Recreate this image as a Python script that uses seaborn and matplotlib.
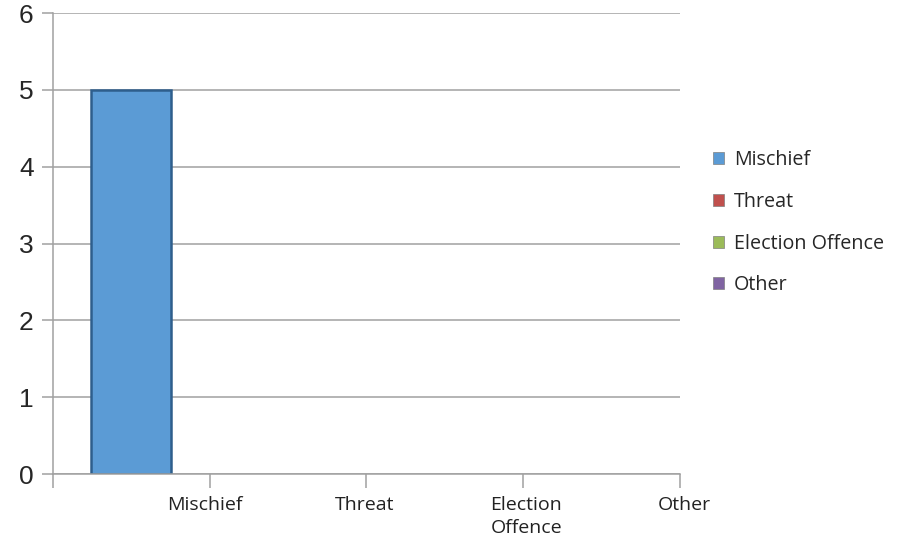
import matplotlib
matplotlib.use("Agg")
import matplotlib.pyplot as plt
import seaborn as sns
import pandas as pd
from matplotlib.patches import Patch

categories = ["Mischief", "Threat", "Election Offence", "Other"]
values = [5, 0, 0, 0]
tick_labels = ["Mischief", "Threat", "Election\nOffence", "Other"]
colors = ["#5B9BD5", "#C0504D", "#9BBB59", "#8064A2"]
yticks = [0, 1, 2, 3, 4, 5, 6]

sns.set_theme(style="white")
plt.rcParams['font.family'] = ['Open Sans', 'DejaVu Sans']

df = pd.DataFrame({"cat": categories, "val": values})

fig = plt.figure(figsize=(9.04, 5.41), dpi=100)
ax = fig.add_axes([0.0586, 0.1238, 0.6936, 0.852])

sns.barplot(data=df, x="cat", y="val", hue="cat", order=categories,
            hue_order=categories, palette=colors, width=0.51, saturation=1,
            edgecolor="#2E5E8C", linewidth=1.8, legend=False, ax=ax)
for p in ax.patches:
    if p.get_height() == 0:
        p.set_linewidth(0)

ax.set_xlim(-0.5, 3.5)
ax.set_ylim(0, 6)
ax.set_yticks(yticks)
ax.set_yticklabels([str(v) for v in yticks], fontsize=19, family="Liberation Sans")
ax.yaxis.grid(True, color="#A0A0A0", linewidth=1.1)
ax.set_axisbelow(True)

# category boundary tick marks
ax.set_xticks([-0.5, 0.5, 1.5, 2.5, 3.5])
ax.set_xticklabels([""] * 5)
ax.tick_params(axis="x", direction="out", length=10, width=1.1, color="#A0A0A0", bottom=True)
ax.tick_params(axis="y", direction="out", length=8, width=1.1, color="#A0A0A0", left=True, pad=6)

label_pos = [0.47, 1.49, 2.52, 3.53]
for x, lab in zip(label_pos, tick_labels):
    ax.annotate(lab, xy=(x, 0), xycoords=("data", "axes fraction"),
                xytext=(0, -15.5), textcoords="offset points",
                ha="center", va="top", fontsize=14, color="#222222",
                linespacing=1.4)

ax.set_xlabel("")
ax.set_ylabel("")
for s in ["top", "right"]:
    ax.spines[s].set_visible(False)
for s in ["left", "bottom"]:
    ax.spines[s].set_color("#A0A0A0")
    ax.spines[s].set_linewidth(1.1)

handles = [Patch(facecolor=c, edgecolor="#808080", linewidth=0.5) for c in colors]
fig.legend(handles, categories, loc="upper left", bbox_to_anchor=(0.780, 0.737),
           frameon=False, fontsize=14.2, handlelength=0.55, handleheight=0.55,
           handletextpad=0.5, labelspacing=1.1, borderaxespad=0)

fig.savefig("out.png", dpi=100)
